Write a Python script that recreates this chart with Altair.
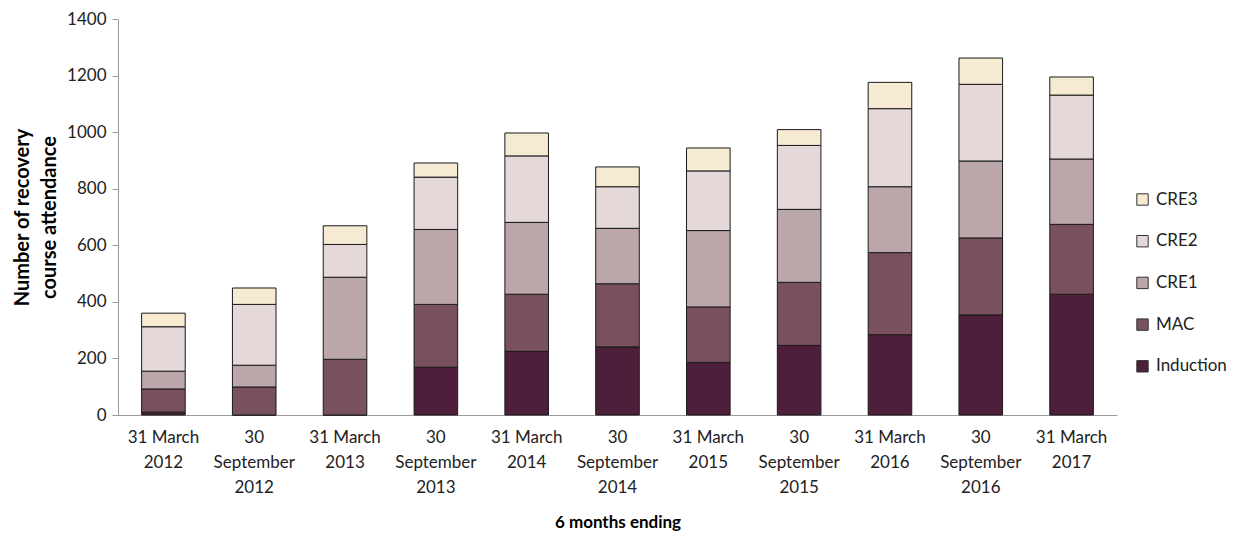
import altair as alt
import pandas as pd

periods = ["31 March 2012", "30 September 2012", "31 March 2013", "30 September 2013",
           "31 March 2014", "30 September 2014", "31 March 2015", "30 September 2015",
           "31 March 2016", "30 September 2016", "31 March 2017"]
series = ["Induction", "MAC", "CRE1", "CRE2", "CRE3"]
induction = [10, 0, 0, 169, 225, 241, 186, 246, 284, 354, 427]
mac = [82, 99, 197, 222, 202, 223, 196, 223, 290, 272, 247]
cre1 = [63, 77, 290, 265, 254, 196, 270, 258, 233, 272, 231]
cre2 = [157, 215, 116, 185, 235, 147, 211, 226, 276, 271, 226]
cre3 = [48, 58, 66, 50, 81, 70, 81, 56, 93, 93, 64]
colors = ["#4E1F3A", "#79515E", "#BBA7AA", "#E4D8D9", "#F6EAD3"]

values = {"Induction": induction, "MAC": mac, "CRE1": cre1, "CRE2": cre2, "CRE3": cre3}
rows = []
for si, s in enumerate(series):
    for pi, p in enumerate(periods):
        rows.append({"period": p, "series": s, "value": values[s][pi], "order": si})
df = pd.DataFrame(rows)

FONT = "Lato"

chart = alt.Chart(df).mark_bar(stroke="#1a1a1a", strokeWidth=1).encode(
    x=alt.X("period:N", sort=periods,
            scale=alt.Scale(paddingInner=0.52, paddingOuter=0.26),
            axis=alt.Axis(title="6 months ending", labelAngle=0, ticks=False,
                          labelExpr="indexof(datum.value,'September')>=0 ? split(datum.value,' ') : [slice(datum.value,0,8), slice(datum.value,9)]",
                          labelLineHeight=25, labelPadding=14, labelFontSize=17,
                          labelColor="#222", domainColor="#9a9a9a",
                          titleFontSize=17, titleFontWeight="bold", titleColor="#000",
                          titleY=107, titleBaseline="middle")),
    y=alt.Y("value:Q", stack="zero",
            scale=alt.Scale(domain=[0, 1400], nice=False),
            axis=alt.Axis(values=list(range(0, 1401, 200)), grid=False, format="d",
                          title=["Number of recovery", "course attendance"],
                          labelFontSize=17, labelColor="#222", labelPadding=6,
                          tickSize=6, tickColor="#9a9a9a", domainColor="#9a9a9a",
                          titleFontSize=20, titleFontWeight="bold", titleColor="#000",
                          titleX=-86, titleY=198, titleLineHeight=27)),
    color=alt.Color("series:N",
                    scale=alt.Scale(domain=series[::-1], range=colors[::-1]),
                    legend=alt.Legend(title=None, orient="none", legendX=1016, legendY=172,
                                      symbolType="square", symbolSize=130,
                                      symbolStrokeColor="#333", symbolStrokeWidth=1,
                                      labelFontSize=17, labelColor="#222", labelFont=FONT,
                                      rowPadding=23.7, labelOffset=5)),
    order=alt.Order("order:Q", sort="ascending"),
).properties(
    width=999, height=396,
    autosize=alt.AutoSizeParams(type="none"),
    padding={"left": 110, "top": 11, "right": 110, "bottom": 120},
).configure(font=FONT).configure_view(stroke=None)

chart.save("out.html", embed_options={"renderer": "svg", "actions": False})
